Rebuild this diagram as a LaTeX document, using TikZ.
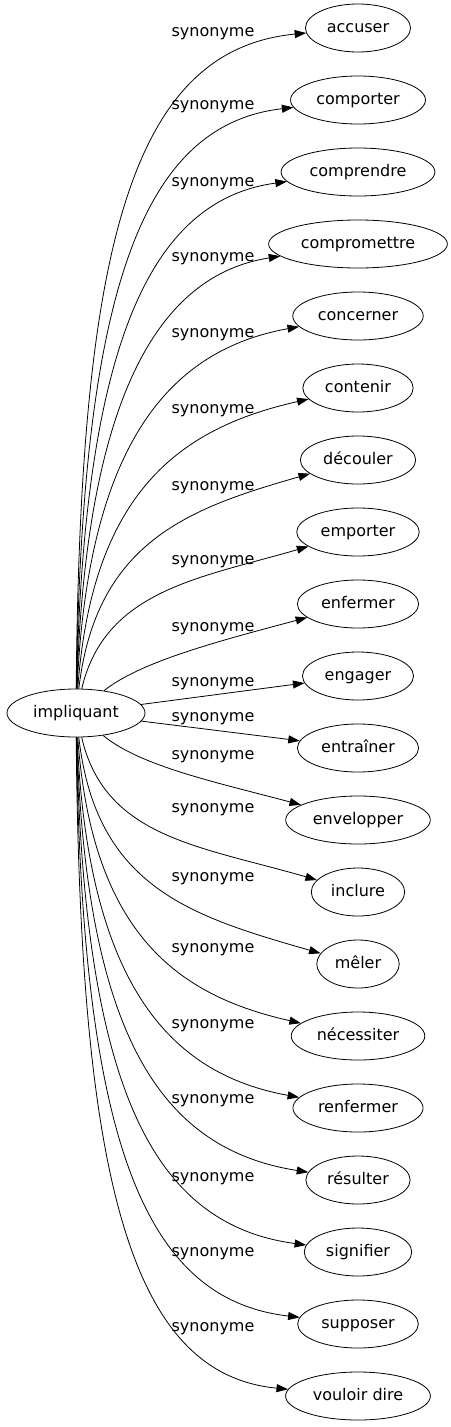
\documentclass[tikz,border=0pt]{standalone}
\usepackage{fontspec}
\setmainfont{DejaVu Sans}
\usetikzlibrary{shapes.geometric, arrows.meta}
\tikzstyle{word} = [ellipse, draw=black, line width=0.8pt, inner xsep=6pt, inner ysep=0pt, minimum height=48pt, text height=12pt, text depth=3pt, font=\fontsize{16pt}{19pt}\selectfont]
\tikzstyle{rel} = [inner sep=0pt, font=\fontsize{16pt}{19pt}\selectfont]
\tikzstyle{arrow} = [line width=0.8pt, -{Triangle[length=11.5pt,width=8pt]}]
\begin{document}
\begin{tikzpicture}[x=1pt, y=-1pt, node distance=72pt]
		\useasboundingbox (0,0) rectangle (450,1427);
		\node (impliquant) [word] at (76,713) {impliquant};
		\node (accuser) [word] at (358,28) {accuser};
		\node (comporter) [word, below of = accuser] {comporter};
		\node (comprendre) [word, below of = comporter] {comprendre};
		\node (compromettre) [word, below of = comprendre] {compromettre};
		\node (concerner) [word, below of = compromettre] {concerner};
		\node (contenir) [word, below of = concerner] {contenir};
		\node (decouler) [word, below of = contenir] {découler};
		\node (emporter) [word, below of = decouler] {emporter};
		\node (enfermer) [word, below of = emporter] {enfermer};
		\node (engager) [word, below of = enfermer] {engager};
		\node (entrainer) [word, below of = engager] {entraîner};
		\node (envelopper) [word, below of = entrainer] {envelopper};
		\node (inclure) [word, below of = envelopper] {inclure};
		\node (meler) [word, below of = inclure] {mêler};
		\node (necessiter) [word, below of = meler] {nécessiter};
		\node (renfermer) [word, below of = necessiter] {renfermer};
		\node (resulter) [word, below of = renfermer] {résulter};
		\node (signifier) [word, below of = resulter] {signifier};
		\node (supposer) [word, below of = signifier] {supposer};
		\node (vouloir) [word, below of = supposer] {vouloir dire};
		% labels
		\node (synaccuser) [rel] at (213,34) {synonyme};
		\node (syncomporter) [rel] at (213,107) {synonyme};
		\node (syncomprendre) [rel] at (213,184) {synonyme};
		\node (syncompromettre) [rel] at (213,259) {synonyme};
		\node (synconcerner) [rel] at (213,335) {synonyme};
		\node (syncontenir) [rel] at (213,411) {synonyme};
		\node (syndecouler) [rel] at (213,488) {synonyme};
		\node (synemporter) [rel] at (213,562) {synonyme};
		\node (synenfermer) [rel] at (213,629) {synonyme};
		\node (synengager) [rel] at (213,684) {synonyme};
		\node (synentrainer) [rel] at (213,719) {synonyme};
		\node (synenvelopper) [rel] at (213,757) {synonyme};
		\node (syninclure) [rel] at (213,810) {synonyme};
		\node (synmeler) [rel] at (213,879) {synonyme};
		\node (synnecessiter) [rel] at (213,950) {synonyme};
		\node (synrenfermer) [rel] at (213,1026) {synonyme};
		\node (synresulter) [rel] at (213,1101) {synonyme};
		\node (synsignifier) [rel] at (213,1179) {synonyme};
		\node (synsupposer) [rel] at (213,1254) {synonyme};
		\node (synvouloir) [rel] at (213,1329) {synonyme};
		% edges
		\draw [arrow] (impliquant) .. controls (80,250) and (130,50) .. (accuser);
		\draw [arrow] (impliquant) .. controls (82,296) and (140,125) .. (comporter);
		\draw [arrow] (impliquant) .. controls (84,345) and (150,200) .. (comprendre);
		\draw [arrow] (impliquant) .. controls (86,394) and (160,275) .. (compromettre);
		\draw [arrow] (impliquant) .. controls (88,443) and (170,350) .. (concerner);
		\draw [arrow] (impliquant) .. controls (92,492) and (180,428) .. (contenir);
		\draw [arrow] (impliquant) .. controls (96,541) and (190,508) .. (decouler);
		\draw [arrow] (impliquant) .. controls (105,590) and (200,578) .. (emporter);
		\draw [arrow] (impliquant) .. controls (140,662) and (215,642) .. (enfermer);
		\draw [arrow] (impliquant) -- (engager);
		\draw [arrow] (impliquant) -- (entrainer);
		\draw [arrow] (impliquant) .. controls (140,766) and (215,782) .. (envelopper);
		\draw [arrow] (impliquant) .. controls (105,838) and (200,846) .. (inclure);
		\draw [arrow] (impliquant) .. controls (96,887) and (190,916) .. (meler);
		\draw [arrow] (impliquant) .. controls (92,936) and (180,996) .. (necessiter);
		\draw [arrow] (impliquant) .. controls (88,985) and (170,1074) .. (renfermer);
		\draw [arrow] (impliquant) .. controls (86,1034) and (160,1149) .. (resulter);
		\draw [arrow] (impliquant) .. controls (84,1083) and (150,1224) .. (signifier);
		\draw [arrow] (impliquant) .. controls (82,1132) and (140,1299) .. (supposer);
		\draw [arrow] (impliquant) .. controls (80,1180) and (130,1374) .. (vouloir);
	\end{tikzpicture}
\end{document}
